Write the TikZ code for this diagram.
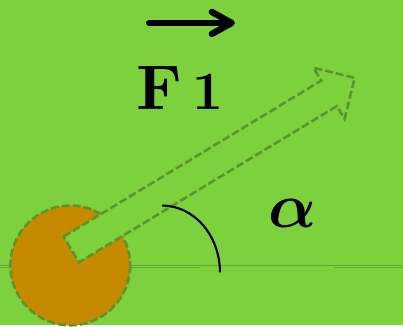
\documentclass[tikz,border=0pt]{standalone}
\usepackage{amsmath}
\usetikzlibrary{arrows.meta}
\DeclareFontShape{OML}{cmm}{b}{it}{<->cmmib10}{}
\DeclareFontShape{OT1}{cmr}{bx}{n}{<->cmbx10}{}
\definecolor{grass}{RGB}{124,209,60}
\definecolor{ball}{RGB}{198,138,0}
\definecolor{rim}{RGB}{92,148,44}
\definecolor{ground}{RGB}{104,166,58}
\begin{document}
\begin{tikzpicture}[x=0.025cm, y=-0.025cm,
    rim/.style={draw=rim, line width=1.8pt, dash pattern=on 5.6pt off 2.2pt},
    big/.style={inner sep=0pt, font=\fontsize{45}{50}\selectfont},
    heavy/.style={inner sep=0pt, anchor=base west, font=\fontencoding{OT1}\fontfamily{cmr}\fontseries{bx}\fontsize{#1}{50}\selectfont}]
  \fill[grass] (0,0) rectangle (403,326);
  \draw[ground, line width=0.6pt] (0,265.5) -- (403,265.5);
  \draw[ground, line width=0.6pt] (0,267.8) -- (200,267.8) (334,267.8) -- (403,267.8);
  \filldraw[fill=ball, rim] (70,266) circle[radius=60];
  \begin{scope}[shift={(71,250)}, rotate=31.2]
    \filldraw[fill=grass, rim] (0,-15) -- (302,-15) -- (302,-30) -- (332,0)
      -- (302,30) -- (302,15) -- (0,15) -- cycle;
  \end{scope}
  \draw[line width=1.5pt] (162,206) arc[start angle=-90, end angle=0, x radius=58, y radius=67];
  \node[heavy=45] (force) at (136,110) {F};
  \node[heavy=38.5] (index) at (192,110) {1};
  \coordinate (vecstart) at (149,23);
  \coordinate (vecend) at (235,23);
  \draw[line width=4.5pt, line cap=round, -{Straight Barb[length=0.5cm, width=0.55cm, round]}] (vecstart) -- (vecend);
  \node[big] (angle) at (293,214) {$\boldsymbol{\alpha}$};
\end{tikzpicture}
\end{document}
